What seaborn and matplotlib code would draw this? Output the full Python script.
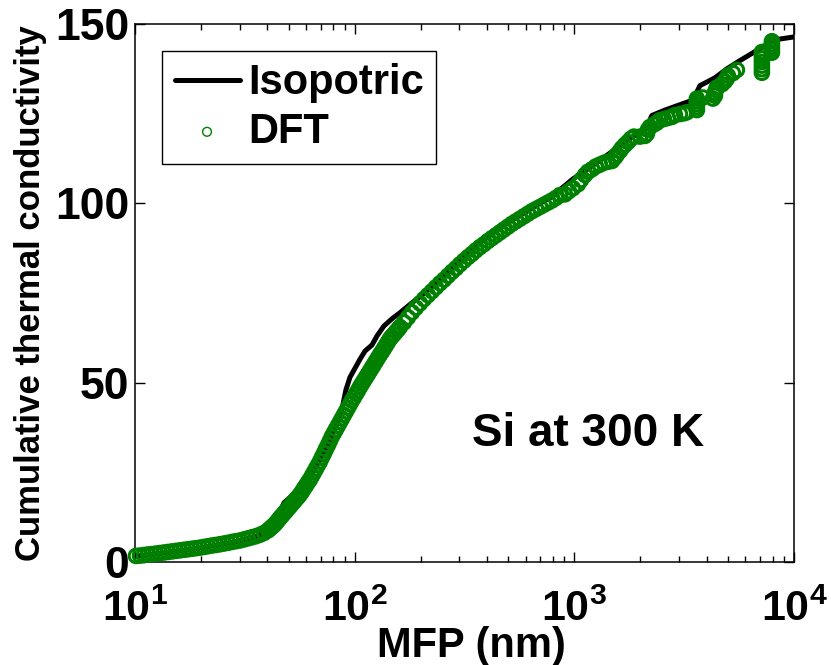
import matplotlib
matplotlib.use("Agg")
import matplotlib.pyplot as plt
import pandas as pd
import seaborn as sns
from matplotlib.ticker import LogLocator, NullFormatter

# Isotropic (gray-model) cumulative thermal conductivity of Si at 300 K
mfp_iso = [10.0, 13.0, 17.80, 23.12, 30.06, 35.17, 40.31, 43.38, 45.71, 47.67,
           50.76, 54.05, 56.36, 62.58, 69.50, 77.18, 83.06, 87.50, 91.25, 95.20,
           100.3, 105.7, 111.4, 119.9, 126.3, 135.9, 147.8, 160.8, 178.5, 198.3,
           220.2, 244.5, 263.1, 286.1, 317.8, 371.8, 444.4, 525.5, 608.5, 697.3,
           799.0, 859.9, 985.4, 1117.5, 1307.7, 1530.5, 1735.6, 1988.9, 2095.9, 2255.5,
           2584.6, 3024.7, 3466.2, 3729.8, 4365.1, 4950.0, 5672.5, 6433.0, 7143.7, 8186.0,
           10000.0]
kappa_iso = [1.6, 2.4, 3.5, 4.6, 5.9, 7.0, 8.7, 11.0, 14.0, 16.5,
             18.0, 18.8, 19.5, 23.5, 28.5, 34.0, 38.5, 42.5, 48.0, 51.5,
             54.0, 56.5, 58.8, 60.5, 63.0, 65.8, 67.8, 69.5, 71.8, 74.0,
             76.3, 78.6, 80.3, 82.6, 85.3, 89.0, 92.5, 95.5, 97.8, 100.0,
             102.0, 103.8, 106.8, 109.0, 112.0, 115.0, 117.6, 119.8, 120.3, 124.5,
             126.0, 127.5, 128.8, 132.8, 135.0, 137.5, 139.8, 141.8, 143.5, 145.6,
             146.4]

# First-principles (DFT) mode-by-mode accumulation
mfp_dft = [
    10.10, 10.54, 10.99, 11.46, 11.95, 12.46, 13.00, 13.55, 14.13, 14.74,
    15.37, 16.03, 16.71, 17.43, 18.17, 18.95, 19.76, 20.61, 21.49, 22.41,
    23.37, 24.37, 25.41, 26.50, 27.64, 28.82, 30.05, 31.34, 32.68, 34.08,
    35.54, 37.07, 38.66, 40.31,
    41.17, 42.05, 42.94, 43.85, 44.78, 45.71, 46.68, 47.67, 48.68, 49.71,
    50.76, 51.83, 52.93, 54.05, 55.20, 56.36, 57.56, 58.77, 60.02, 61.29,
    62.58, 63.91, 65.26, 66.64, 68.05, 69.50, 70.97, 72.47, 74.00, 75.57,
    77.17, 78.80, 80.47, 82.17, 83.91, 85.69, 87.50, 89.35, 91.24, 93.17,
    95.15, 97.16, 99.22, 101.4, 103.5, 105.7, 107.9, 110.2, 112.6, 115.0,
    117.4, 119.9, 122.4, 125.0, 127.6, 130.3, 133.1, 135.9, 138.8, 141.7,
    144.7, 147.8, 151.0, 154.2, 157.4, 160.7,
    167.7, 174.8, 182.4, 190.1, 198.3, 206.8, 215.6, 224.9, 234.5, 244.5,
    255.0, 265.9, 277.3, 289.1, 301.5, 314.4, 327.9, 341.9, 356.6, 371.8,
    387.7, 404.3, 421.6, 439.7, 458.5, 478.1, 498.6, 520.0, 542.2, 565.4,
    589.6, 614.9, 641.2, 668.6, 697.3, 727.1, 758.3, 790.7, 824.6, 859.9,
    906.2, 944.9, 985.4, 1038, 1072, 1118, 1153, 1203, 1254, 1308,
    1364, 1422, 1483, 1531, 1563, 1613, 1647, 1700, 1754, 1810,
    1868, 1989, 2096, 2140, 2163, 2209, 2303, 2377, 2453, 2558,
    2667, 2781, 2870, 3025, 3154, 3255, 3614, 3614, 3614, 3614,
    3614, 3849, 4275, 4365, 4365, 4411, 4458, 4698, 4847, 4950,
    5002, 5271, 5497,
    7144, 7144, 7144, 7144, 7144, 7144, 7144,
    7934, 7934, 7934, 7934, 7934]
kappa_dft = [
    1.7, 1.8, 1.95, 2.1, 2.2, 2.35, 2.5, 2.65, 2.8, 2.95,
    3.1, 3.25, 3.4, 3.55, 3.7, 3.85, 4.0, 4.2, 4.4, 4.6,
    4.75, 4.95, 5.15, 5.35, 5.6, 5.8, 6.0, 6.3, 6.6, 6.9,
    7.2, 7.6, 8.1, 8.8,
    9.3, 9.8, 10.3, 10.9, 11.6, 12.3, 12.9, 13.6, 14.2, 14.9,
    15.5, 16.2, 16.8, 17.5, 18.1, 18.8, 19.6, 20.5, 21.3, 22.2,
    23.0, 24.0, 25.0, 26.0, 27.0, 28.0, 29.2, 30.3, 31.5, 32.6,
    33.8, 35.0, 36.0, 37.0, 38.0, 39.0, 40.0, 41.0, 42.0, 43.0,
    44.0, 45.0, 45.9, 46.9, 47.8, 48.8, 49.7, 50.6, 51.5, 52.4,
    53.3, 54.2, 55.1, 56.0, 56.9, 57.8, 58.6, 59.5, 60.4, 61.3,
    62.2, 62.9, 63.5, 64.2, 64.8, 65.5,
    66.8, 68.2, 69.6, 70.9, 72.1, 73.3, 74.4, 75.5, 76.6, 77.7,
    78.7, 79.8, 80.9, 81.9, 83.0, 84.0, 85.0, 85.9, 86.9, 87.8,
    88.6, 89.5, 90.3, 91.1, 91.9, 92.7, 93.5, 94.3, 95.0, 95.7,
    96.4, 97.1, 97.8, 98.4, 99.0, 99.6, 100.2, 100.8, 101.5, 102.3,
    102.5, 103.4, 104.2, 105.3, 106.5, 107.9, 108.8, 109.5, 110.3, 110.8,
    111.3, 111.6, 111.8, 112.8, 113.6, 114.6, 115.4, 116.3, 117.1, 118.0,
    118.6, 118.6, 118.8, 119.4, 120.5, 121.3, 122.0, 122.5, 123.2, 123.5,
    123.8, 124.1, 124.6, 124.9, 125.1, 125.4, 126.0, 126.8, 127.6, 128.4,
    129.2, 129.5, 129.2, 130.0, 130.8, 131.6, 132.3, 133.2, 134.0, 134.8,
    135.6, 136.3, 137.2,
    136.4, 137.4, 138.4, 139.4, 140.4, 141.4, 142.2,
    142.0, 142.8, 143.6, 144.4, 145.2]

x_ticks = [10, 100, 1000, 10000]
x_tick_labels = [r"$\mathbf{10^{1}}$", r"$\mathbf{10^{2}}$",
                 r"$\mathbf{10^{3}}$", r"$\mathbf{10^{4}}$"]
y_ticks = [0, 50, 100, 150]

sns.set_theme(style="white")
plt.rcParams.update({
    "font.family": ["Liberation Sans", "DejaVu Sans"],
    "font.weight": "bold",
    "axes.labelweight": "bold",
    "text.color": "black",
    "axes.labelcolor": "black",
    "xtick.color": "black",
    "ytick.color": "black",
    "mathtext.fontset": "custom",
    "mathtext.rm": "Liberation Sans:bold",
    "mathtext.bf": "Liberation Sans:bold",
    "mathtext.it": "Liberation Sans:bold",
    "axes.edgecolor": "black",
    "axes.linewidth": 1.1,
})

fig = plt.figure(figsize=(8.31, 6.65), dpi=100)
ax = fig.add_axes([135 / 831, 103 / 665, 659 / 831, 538 / 665])
ax.set_xscale("log")

iso = pd.DataFrame({"mfp": mfp_iso, "kappa": kappa_iso})
dft = pd.DataFrame({"mfp": mfp_dft, "kappa": kappa_dft})

sns.lineplot(data=iso, x="mfp", y="kappa", color="black", linewidth=3.6,
             estimator=None, sort=False, label="Isopotric", ax=ax, zorder=2)
sns.scatterplot(data=dft, x="mfp", y="kappa", marker="o", s=95,
                color="green", facecolor="none", edgecolor="green",
                linewidth=2.2, label="DFT", ax=ax, zorder=3)
for coll in ax.collections:
    coll.set_clip_on(False)

ax.set_xlim(10, 1e4)
ax.set_ylim(0, 150)
ax.set_xticks(x_ticks)
ax.set_xticklabels(x_tick_labels)
ax.xaxis.set_minor_locator(LogLocator(base=10, subs=range(2, 10)))
ax.xaxis.set_minor_formatter(NullFormatter())
ax.set_yticks(y_ticks)
ax.set_yticklabels([str(v) for v in y_ticks])

ax.tick_params(which="both", direction="in", top=True, right=True,
               bottom=True, left=True, colors="black", width=1.0)
ax.tick_params(which="major", length=7)
ax.tick_params(which="minor", length=4)
ax.tick_params(axis="y", labelsize=32, pad=4)
ax.tick_params(axis="x", labelsize=31, pad=20)

ax.set_xlabel("MFP (nm)", fontsize=30, fontweight="bold", color="black")
ax.xaxis.set_label_coords(0.51, -0.119)
ax.set_ylabel("Cumulative thermal conductivity", fontsize=25,
              fontweight="bold", color="black")
ax.yaxis.label.set_verticalalignment("center")
ax.yaxis.set_label_coords(-0.159, 0.5)

ax.text(342, 35.7, "Si at 300 K", fontsize=33, fontweight="bold",
        ha="left", va="center", color="black")

handles, labels = ax.get_legend_handles_labels()
leg = ax.legend(handles, labels, loc="upper left", bbox_to_anchor=(0.041, 0.950),
                borderaxespad=0, frameon=True, fancybox=False, framealpha=1,
                edgecolor="black", fontsize=30, handlelength=1.56,
                handletextpad=0.2, labelspacing=0.2, borderpad=0.3,
                markerscale=0.65)
leg.get_frame().set_linewidth(1.0)
for h in leg.legend_handles:
    if not hasattr(h, "get_xdata"):
        h.set_linewidth(1.0)

fig.savefig("out.png", dpi=100)
